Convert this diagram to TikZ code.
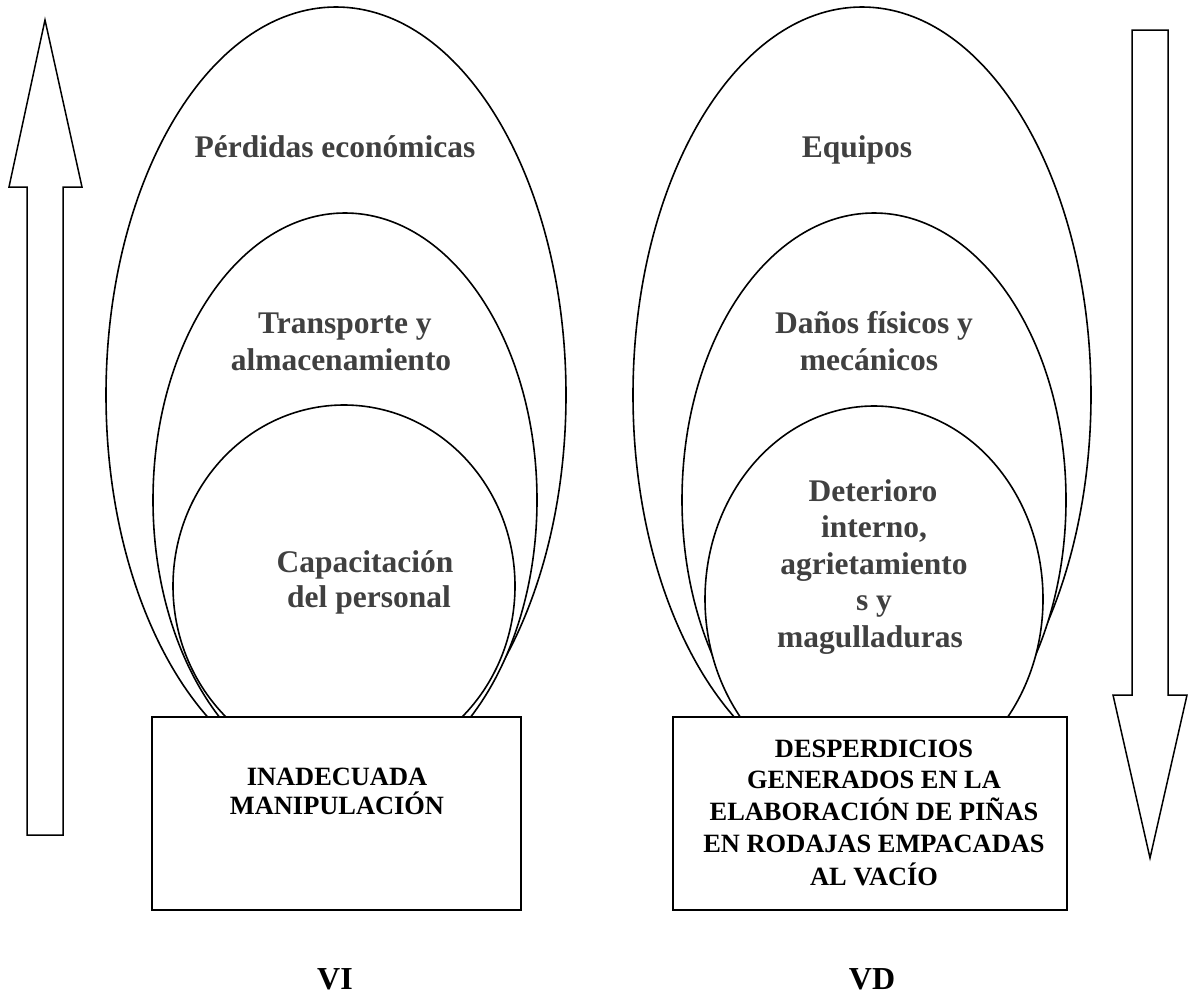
\documentclass[tikz,border=0pt]{standalone}
\usepackage{fontspec}
\setmainfont{Liberation Serif}
\definecolor{txtgray}{RGB}{64,64,64}
\tikzset{
  eggline/.style={draw=black, fill=white, line width=1.6pt},
  eltext/.style={font=\fontsize{31.5}{36}\selectfont\bfseries, text=txtgray, inner sep=0pt, anchor=base},
  bxtext/.style={font=\fontsize{26.4}{30}\selectfont\bfseries, text=black, inner sep=0pt, anchor=base},
  vtext/.style={font=\fontsize{32}{36}\selectfont\bfseries, text=black, inner sep=0pt, anchor=base},
  boxst/.style={draw=black, fill=white, line width=1.8pt, inner sep=0pt},
  bigarrow/.style={draw=black, fill=white, line width=1.5pt, line join=miter}
}
\newcommand{\ovalshape}[4]{%
  \filldraw[eggline] (#1,#2) ellipse[x radius=#3pt,y radius=#4pt];}
\begin{document}
\begin{tikzpicture}[x=1pt,y=-1pt]
\useasboundingbox (0,0) rectangle (1191,996);

% left arrow (up)
\draw[bigarrow] (45,20) -- (82,187) -- (63,187) -- (63,835) -- (27,835) -- (27,187) -- (9,187) -- cycle;
% right arrow (down)
\draw[bigarrow] (1132,30) -- (1168,30) -- (1168,695) -- (1187,695) -- (1150,858) -- (1113,695) -- (1132,695) -- cycle;

% left ellipses
\ovalshape{336}{395}{230}{388}
\ovalshape{345}{500}{192}{287}
\ovalshape{344}{586}{171}{181}
% right ellipses
\ovalshape{862}{395}{229}{388}
\ovalshape{874}{500}{192}{287}
\ovalshape{874}{599}{169}{193}

% boxes
\node[boxst, minimum width=369pt, minimum height=193pt] (vi) at (336.5,813.5) {};
\node[boxst, minimum width=394pt, minimum height=193pt] (vd) at (870,813.5) {};

% left texts
\node[eltext] (l1) at (335,157) {Pérdidas económicas};
\node[eltext] (l2a) at (345,333) {Transporte y};
\node[eltext] (l2b) at (341,370) {almacenamiento};
\node[eltext] (l3a) at (365,572) {Capacitación};
\node[eltext] (l3b) at (369,607) {del personal};

% right texts
\node[eltext] (r1) at (857,157) {Equipos};
\node[eltext] (r2a) at (874,333) {Daños físicos y};
\node[eltext] (r2b) at (869,370) {mecánicos};
\node[eltext] (r3a) at (873,501) {Deterioro};
\node[eltext] (r3b) at (874,537) {interno,};
\node[eltext] (r3c) at (874,574) {agrietamiento};
\node[eltext] (r3d) at (874,610) {s y};
\node[eltext] (r3e) at (870,647) {magulladuras};

% box texts
\node[bxtext] (b1a) at (337,785) {INADECUADA};
\node[bxtext] (b1b) at (337,814) {MANIPULACIÓN};
\node[bxtext] (b2a) at (874,757) {DESPERDICIOS};
\node[bxtext] (b2b) at (874,788) {GENERADOS EN LA};
\node[bxtext] (b2c) at (874,820) {ELABORACIÓN DE PIÑAS};
\node[bxtext] (b2d) at (874,852) {EN RODAJAS EMPACADAS};
\node[bxtext] (b2e) at (874,885) {AL VACÍO};

% labels
\node[vtext] (lab1) at (335,989) {VI};
\node[vtext] (lab2) at (872,989) {VD};
\end{tikzpicture}
\end{document}
